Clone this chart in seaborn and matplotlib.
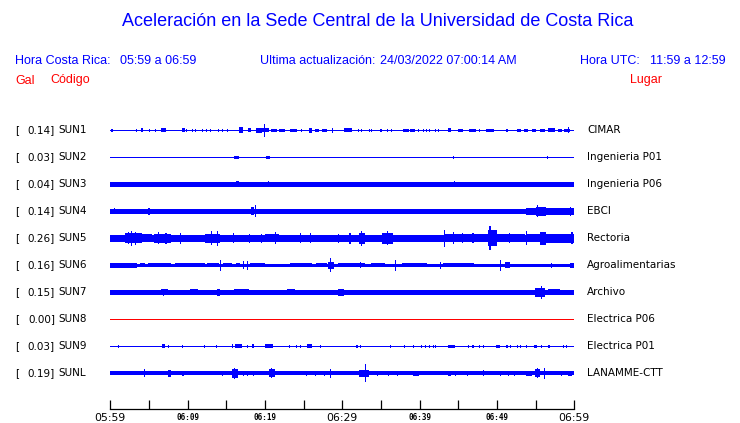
import matplotlib
matplotlib.use("Agg")
import matplotlib.pyplot as plt
import matplotlib.transforms as mtransforms
import seaborn as sns

# ---------------- data ----------------
CODES = ["SUN1", "SUN2", "SUN3", "SUN4", "SUN5", "SUN6", "SUN7", "SUN8", "SUN9", "SUNL"]
PEAKS = ["0.14", "0.03", "0.04", "0.14", "0.26", "0.16", "0.15", "0.00", "0.03", "0.19"]
PLACES = ["CIMAR", "Ingenieria P01", "Ingenieria P06", "EBCI", "Rectoria",
          "Agroalimentarias", "Archivo", "Electrica P06", "Electrica P01", "LANAMME-CTT"]
# background noise half-amplitude of each trace (counts)
BASE = [0.5, 0.5, 1.65, 1.65, 2.7, 1.5, 1.7, 0.5, 0.5, 1.85]

# events: (start minute, end minute, half amplitude in counts); minutes after 05:59
SUN1_EVENTS = [(0.1, 0.4, 1.7), (3.4, 3.4, 1.3), (4.1, 4.1, 2), (5.1, 5.1, 1.5), (5.8, 5.8, 1.5),
               (6.6, 7.2, 2.2), (9.3, 9.6, 2), (9.9, 9.9, 1.5), (10.6, 10.6, 1.5), (11.0, 11.0, 1.5),
               (11.9, 11.9, 1.5), (12.4, 12.4, 1.5), (13.0, 13.0, 1.5), (14.0, 14.0, 1.5),
               (14.5, 14.5, 1.5), (15.2, 15.2, 1.5), (16.6, 17.2, 3), (17.8, 18.2, 2),
               (18.8, 19.6, 2.3), (19.6, 20.5, 2), (19.9, 19.9, 6.5), (20.8, 21.5, 1.7),
               (21.8, 22.6, 1.7), (23.3, 24.1, 1.5), (24.7, 24.7, 1.5), (25.7, 26.1, 2.5),
               (26.5, 27.0, 1.5), (27.4, 28.0, 1.5), (28.7, 28.7, 2.5), (30.2, 31.3, 2),
               (32.1, 32.1, 1.5), (32.5, 32.5, 1.5), (33.5, 33.5, 1.5), (33.8, 33.8, 1.5),
               (35.0, 35.0, 1.5), (35.8, 35.8, 1.5), (36.4, 36.4, 1.5), (37.9, 38.6, 1.7),
               (38.8, 39.4, 1.7), (39.9, 39.9, 1.5), (40.5, 40.5, 1.5), (40.9, 40.9, 1.5),
               (41.3, 41.3, 1.5), (42.0, 42.0, 1.5), (42.4, 42.4, 1.5), (43.7, 44.1, 2),
               (45.0, 45.6, 1.5), (46.4, 47.3, 1.7), (47.8, 47.8, 1.5), (48.6, 49.6, 1.7),
               (51.3, 51.3, 1.5), (52.6, 53.1, 1.5), (53.5, 54.0, 1.5), (54.5, 55.1, 1.5),
               (55.6, 56.2, 1.7), (56.6, 57.5, 2), (57.9, 58.4, 1.7), (58.7, 59.4, 1.7),
               (59.2, 59.2, 3)]
SUN2_EVENTS = [(16.0, 16.6, 1.7), (20.1, 20.7, 1.7), (44.4, 44.4, 1.3), (56.5, 56.5, 1.3)]
SUN3_EVENTS = [(0.0, 1.7, 2.0), (1.9, 3.8, 2.0), (12.2, 15.7, 1.9), (15.8, 15.8, 2.7),
               (16.3, 16.6, 3.0), (19.8, 20.6, 2.3), (20.4, 20.4, 3.0), (24.3, 24.3, 2.3),
               (44.5, 44.5, 3.0), (44.9, 44.9, 2.5)]
SUN4_EVENTS = [(0.0, 0.6, 2.3), (0.5, 0.5, 3.0), (2.3, 2.3, 2.0), (3.2, 3.2, 2.0), (3.8, 3.8, 2.0),
               (5.0, 5.0, 3.3), (6.2, 7.1, 2.0), (7.3, 7.9, 2.5), (8.1, 8.6, 2.0), (9.0, 9.9, 2.0),
               (10.3, 10.3, 2.0), (14.7, 14.7, 2.3), (15.7, 15.7, 2.0), (16.6, 16.6, 2.0),
               (18.2, 18.6, 3.8), (18.8, 18.8, 5.8), (19.1, 20.0, 2.5), (24.1, 24.1, 2.3),
               (26.0, 26.0, 2.3), (28.2, 28.2, 2.3), (28.9, 28.9, 2.3), (29.7, 29.7, 2.3),
               (32.4, 32.4, 2.5), (34.5, 34.5, 2.0), (36.2, 36.2, 2.3), (37.3, 37.3, 2.3),
               (39.4, 39.4, 2.0), (40.5, 40.5, 2.0), (41.6, 43.1, 2.7), (43.8, 43.8, 2.0),
               (49.5, 49.5, 2.7), (50.2, 50.2, 2.0), (51.7, 53.0, 2.5), (53.8, 55.0, 3.3),
               (55.0, 56.3, 4.3), (55.3, 55.3, 5.8), (56.3, 58.0, 3.3), (58.0, 60.0, 3.5),
               (59.5, 59.5, 4.5)]
SUN5_EVENTS = [(0.0, 1.9, 3.4), (1.9, 4.1, 5.0), (2.3, 2.3, 6.0), (2.8, 2.8, 7.5), (3.3, 3.3, 6.5),
               (4.1, 5.4, 4.0), (5.6, 7.9, 4.5), (6.2, 6.2, 6.0), (7.2, 7.2, 5.5), (7.9, 9.9, 3.4),
               (9.1, 9.1, 5.5), (9.9, 12.2, 3.4), (12.2, 14.2, 4.6), (13.1, 13.1, 7.0),
               (13.9, 13.9, 7.5), (14.2, 20.0, 3.4), (15.9, 15.9, 5.0), (18.0, 18.0, 4.5),
               (19.5, 19.5, 4.5), (20.0, 21.8, 4.2), (21.4, 21.4, 6.0), (21.8, 24.0, 3.4),
               (24.6, 24.6, 5.0), (25.9, 25.9, 5.0), (24.0, 31.0, 3.4), (29.5, 29.5, 4.5),
               (31.0, 31.0, 5.5), (31.0, 32.1, 3.6), (32.1, 33.0, 5.5), (32.5, 32.5, 7.5),
               (33.0, 35.1, 3.6), (35.1, 36.6, 5.5), (35.8, 35.8, 7.0), (36.6, 43.0, 3.4),
               (43.2, 43.2, 8.5), (43.3, 48.9, 4.0), (44.4, 44.4, 6.0), (45.6, 45.6, 5.0),
               (46.9, 46.9, 5.0), (48.9, 50.0, 8.0), (49.1, 49.1, 12.0), (50.0, 53.6, 4.0),
               (51.6, 51.6, 5.0), (53.8, 53.8, 7.0), (53.9, 55.6, 4.0), (55.6, 56.4, 6.5),
               (56.4, 60.0, 4.3), (59.7, 59.7, 6.0)]
SUN6_EVENTS = [(0.0, 3.4, 2.2), (3.8, 4.5, 2.0), (4.9, 7.9, 2.0), (8.4, 12.2, 2.0), (12.5, 14.0, 2.0),
               (14.2, 14.2, 5.5), (14.6, 15.7, 2.0), (16.3, 16.8, 2.0), (17.2, 17.2, 4.0),
               (17.8, 17.8, 4.5), (18.1, 20.0, 2.0), (23.3, 26.1, 2.0), (26.6, 28.0, 2.0),
               (28.2, 28.9, 3.5), (28.5, 28.5, 7.0), (29.5, 33.0, 2.0), (32.3, 32.3, 3.0),
               (33.7, 35.5, 2.0), (36.9, 36.9, 5.5), (37.7, 41.0, 2.0), (42.7, 42.7, 3.5),
               (43.0, 47.0, 2.0), (50.4, 50.4, 5.5), (51.0, 51.7, 3.0), (57.1, 57.1, 2.5),
               (59.5, 60.0, 2.3)]
SUN7_EVENTS = [(0.0, 1.9, 2.0), (2.1, 2.1, 2.5), (4.3, 4.9, 2.8), (5.8, 5.8, 2.3), (6.6, 7.4, 3.0),
               (6.9, 6.9, 3.5), (8.1, 8.1, 2.3), (10.3, 11.4, 3.0), (12.2, 12.2, 2.3),
               (13.8, 14.2, 3.3), (14.4, 15.3, 2.5), (16.0, 17.9, 3.0), (18.8, 18.8, 2.3),
               (20.5, 21.3, 2.8), (21.9, 22.2, 2.5), (22.8, 23.9, 3.0), (24.9, 25.8, 2.3),
               (27.2, 28.2, 2.8), (29.5, 30.2, 3.3), (30.8, 32.5, 2.3), (33.2, 34.0, 2.5),
               (35.3, 35.3, 2.3), (36.4, 36.4, 2.5), (37.8, 39.5, 2.5), (41.3, 42.2, 2.5),
               (43.2, 44.6, 2.3), (45.3, 49.6, 2.5), (51.7, 53.0, 2.5), (54.9, 56.2, 4.5),
               (55.7, 55.7, 6.8), (56.6, 58.2, 3.0), (58.2, 60.0, 2.5)]
SUN8_EVENTS = []
SUN9_EVENTS = [(1.1, 1.1, 1.3), (6.7, 7.1, 2.0), (7.5, 7.5, 1.3), (9.3, 9.3, 1.3), (12.2, 12.2, 1.3),
               (13.7, 13.7, 1.3), (15.8, 15.8, 2.0), (16.1, 17.0, 2.0), (17.8, 17.8, 1.3),
               (18.3, 18.6, 2.0), (20.0, 21.1, 2.0), (23.2, 23.2, 1.3), (24.1, 24.1, 1.3),
               (24.6, 24.6, 1.3), (25.4, 26.1, 2.0), (27.2, 27.2, 1.3), (31.9, 31.9, 1.3),
               (32.3, 32.3, 1.3), (36.2, 36.2, 1.3), (38.1, 38.1, 1.3), (39.2, 39.2, 1.3),
               (40.3, 40.3, 1.3), (40.7, 40.7, 1.3), (41.3, 41.3, 1.3), (41.8, 41.8, 1.3),
               (42.1, 42.1, 1.3), (43.7, 44.6, 1.7), (46.3, 46.3, 1.3), (46.9, 46.9, 1.3),
               (47.7, 47.7, 1.3), (48.2, 48.2, 1.3), (49.9, 50.4, 1.7), (51.3, 51.3, 1.3),
               (51.8, 51.8, 1.3), (52.6, 52.6, 1.3), (53.0, 53.0, 1.3), (53.8, 53.8, 1.3),
               (54.8, 55.2, 1.7), (55.7, 55.7, 1.3), (56.6, 56.9, 1.7), (58.6, 58.6, 1.3),
               (59.0, 59.0, 1.3)]
SUNL_EVENTS = [(4.4, 4.4, 4.0), (7.4, 7.9, 3.5), (9.4, 9.4, 2.3), (14.5, 14.5, 2.3), (15.7, 16.5, 4.5),
               (16.1, 16.1, 5.5), (17.2, 17.2, 2.5), (17.8, 17.8, 2.5), (18.5, 18.5, 2.5),
               (20.5, 21.3, 4.0), (20.9, 20.9, 5.0), (25.4, 25.4, 2.5), (26.5, 26.5, 2.5),
               (27.7, 27.7, 2.5), (28.5, 28.5, 4.5), (30.4, 30.4, 2.0), (32.1, 33.4, 3.5),
               (33.0, 33.0, 9.0), (34.5, 34.5, 2.3), (36.0, 36.0, 2.3), (37.1, 37.1, 2.3),
               (39.2, 39.9, 2.5), (40.3, 40.3, 2.0), (41.0, 41.0, 2.0), (41.8, 41.8, 2.0),
               (43.7, 44.0, 2.8), (44.6, 44.6, 2.3), (46.2, 46.2, 2.3), (48.3, 48.3, 3.0),
               (50.5, 50.5, 2.5), (51.5, 51.5, 2.3), (52.3, 52.3, 2.3), (53.8, 54.5, 2.8),
               (54.9, 55.6, 4.0), (55.2, 55.2, 5.0), (56.1, 56.1, 5.5), (57.5, 57.5, 2.0),
               (58.4, 58.4, 2.3), (59.2, 59.7, 2.5)]
EVENTS = [SUN1_EVENTS, SUN2_EVENTS, SUN3_EVENTS, SUN4_EVENTS, SUN5_EVENTS,
          SUN6_EVENTS, SUN7_EVENTS, SUN8_EVENTS, SUN9_EVENTS, SUNL_EVENTS]

TICK_MINUTES = list(range(0, 61, 5))
TICK_LABELS = ["05:59", "", "06:09", "", "06:19", "", "06:29", "", "06:39", "", "06:49", "", "06:59"]
MAJOR_LABELS = ["05:59", "06:29", "06:59"]

TITLE = "Aceleración en la Sede Central de la Universidad de Costa Rica"

# ---------------- figure ----------------
sns.set_theme(style="white")
plt.rcParams["font.family"] = ["DejaVu Sans"]

W, H = 740, 423
fig = plt.figure(figsize=(W / 100, H / 100), dpi=100)
BLUE = "#0000ff"
RED = "#ff0000"

ax = fig.add_axes([110.3 / W, (H - 409) / H, 464 / W, (409 - 115) / H])
ax.set_facecolor("white")
ROW_PX = 27.0
ax.set_xlim(0, 60)
ax.set_ylim((409 - 130.3) / ROW_PX, (115 - 130.3) / ROW_PX)

for i, (code, ev) in enumerate(zip(CODES, EVENTS)):
    color = RED if PEAKS[i] == "0.00" else BLUE
    lw_pt = max(2 * BASE[i], 1.0) * 72 / 100
    sns.lineplot(x=[0, 60], y=[i, i], ax=ax, color=color, linewidth=lw_pt,
                 solid_capstyle="butt", antialiased=False, legend=False)
    for (t0, t1, amp) in ev:
        w = max(t1 - t0, 0.14)
        a = amp / ROW_PX
        ax.bar(t0 if t1 > t0 else t0 - w / 2, 2 * a, bottom=i - a, width=w, align="edge",
               color=color, linewidth=0, antialiased=False)

ax.set_xlabel("")
ax.set_ylabel("")
for s in ["top", "left", "right"]:
    ax.spines[s].set_visible(False)
ax.spines["bottom"].set_color("black")
ax.spines["bottom"].set_linewidth(0.9)
ax.set_yticks([])
ax.set_xticks(TICK_MINUTES)
ax.set_xticklabels(TICK_LABELS)
ax.tick_params(axis="x", direction="in", length=6.5, width=0.9, color="black", pad=3, bottom=True)
for lab in ax.get_xticklabels():
    if lab.get_text() in MAJOR_LABELS:
        lab.set_fontsize(7.8)
        lab.set_fontfamily("DejaVu Sans")
    else:
        lab.set_fontsize(5.5)
        lab.set_fontfamily("DejaVu Sans Mono")
        lab.set_fontweight("bold")
    lab.set_color("black")

# station labels
tr = mtransforms.blended_transform_factory(fig.transFigure, ax.transData)
for i in range(len(CODES)):
    ax.text(15 / W, i, "[", transform=tr, ha="left", va="center", fontsize=7.5, color="black")
    ax.text(55 / W, i, PEAKS[i] + "]", transform=tr, ha="right", va="center", fontsize=7.5, color="black")
    ax.text(58 / W, i, CODES[i], transform=tr, ha="left", va="center", fontsize=7.5, color="black")
    ax.text(587 / W, i, PLACES[i], transform=tr, ha="left", va="center", fontsize=7.5, color="black")

# header
def fy(py):
    return 1 - py / H

HF = "Liberation Sans"
fig.text(378 / W, fy(22), TITLE, ha="center", va="center", fontsize=13, color=BLUE, family=HF)
fig.text(15 / W, fy(61), "Hora Costa Rica:", ha="left", va="center", fontsize=9, color=BLUE, family=HF)
fig.text(120 / W, fy(61), "05:59 a 06:59", ha="left", va="center", fontsize=9, color=BLUE, family=HF)
fig.text(260.5 / W, fy(61), "Ultima actualización:", ha="left", va="center", fontsize=9, color=BLUE, family=HF)
fig.text(380 / W, fy(61), "24/03/2022 07:00:14 AM", ha="left", va="center", fontsize=9, color=BLUE, family=HF)
fig.text(580.5 / W, fy(61), "Hora UTC:", ha="left", va="center", fontsize=9, color=BLUE, family=HF)
fig.text(650.5 / W, fy(61), "11:59 a 12:59", ha="left", va="center", fontsize=9, color=BLUE, family=HF)
fig.text(15 / W, fy(80.5), "Gal", ha="left", va="center", fontsize=9, color=RED, family=HF)
fig.text(50 / W, fy(80.5), "Código", ha="left", va="center", fontsize=9, color=RED, family=HF)
fig.text(630 / W, fy(80.5), "Lugar", ha="left", va="center", fontsize=9, color=RED, family=HF)

fig.savefig("out.png", dpi=100, facecolor="white")
